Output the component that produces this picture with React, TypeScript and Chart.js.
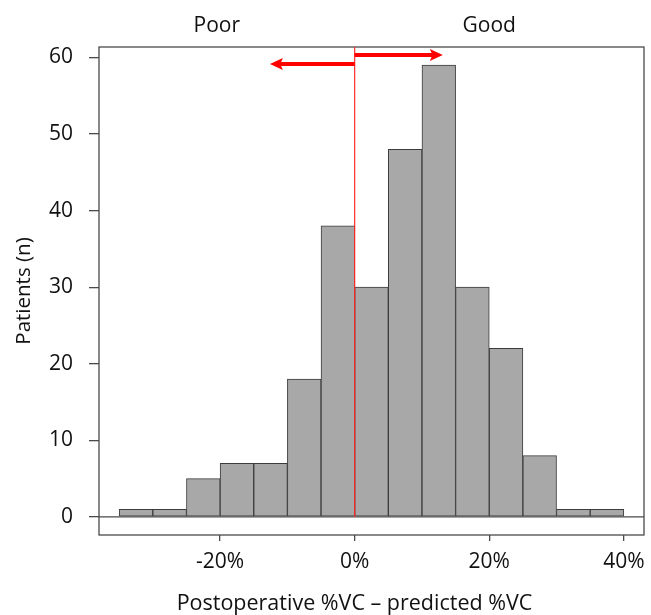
import React, { useEffect, useRef } from "react";
import { Chart, registerables } from "chart.js";

Chart.register(...registerables);

// Histogram bins (start of each 5% bin) and patient counts
const binStarts = [-35, -30, -25, -20, -15, -10, -5, 0, 5, 10, 15, 20, 25, 30, 35];
const binWidth = 5;
const counts = [1, 1, 5, 7, 7, 18, 38, 30, 48, 59, 30, 22, 8, 1, 1];

// Axis ticks
const xTicks = [-20, 0, 20, 40];
const yTicks = [0, 10, 20, 30, 40, 50, 60];

// Axis ranges
const xRange = [-38, 43];
const yRange = [-2.36, 61.36];

// Annotations
const cutoff = 0;
const arrowPoor = { from: 0, to: -12.6, y: 59.15 };
const arrowGood = { from: 0, to: 13.1, y: 60.3 };
const sideLabels = [
  { text: "Poor", x: -20.5 },
  { text: "Good", x: 20 },
];
const xTitle = "Postoperative %VC \u2013 predicted %VC";
const yTitle = "Patients (n)";

const FONT = "'Open Sans', 'Liberation Sans', sans-serif";
const TEXT = "#111111";
const LINE = "#4a4a4a";

const overlay = {
  id: "overlay",
  afterDatasetsDraw(chart: any) {
    const { ctx, chartArea: a, scales } = chart;
    const xs = scales.x;
    const ys = scales.y;
    ctx.save();
    // zero line
    const y0 = ys.getPixelForValue(0);
    ctx.strokeStyle = LINE;
    ctx.lineWidth = 1.3;
    ctx.beginPath();
    ctx.moveTo(a.left, y0);
    ctx.lineTo(a.right, y0);
    ctx.stroke();
    // box
    ctx.strokeRect(a.left, a.top, a.right - a.left, a.bottom - a.top);
    // red cutoff line
    const xc = xs.getPixelForValue(cutoff);
    ctx.strokeStyle = "#ff2a2a";
    ctx.lineWidth = 1.2;
    ctx.beginPath();
    ctx.moveTo(xc, a.top);
    ctx.lineTo(xc, y0);
    ctx.stroke();
    // arrows
    const drawArrow = (ar: any) => {
      const x1 = xs.getPixelForValue(ar.from);
      const x2 = xs.getPixelForValue(ar.to);
      const y = ys.getPixelForValue(ar.y);
      const dir = Math.sign(x2 - x1);
      const headLen = 13;
      const headHalf = 6;
      ctx.strokeStyle = "#ff0000";
      ctx.fillStyle = "#ff0000";
      ctx.lineWidth = 4;
      ctx.beginPath();
      ctx.moveTo(x1, y);
      ctx.lineTo(x2 - dir * headLen * 0.6, y);
      ctx.stroke();
      ctx.beginPath();
      ctx.moveTo(x2, y);
      ctx.lineTo(x2 - dir * headLen, y - headHalf);
      ctx.lineTo(x2 - dir * headLen * 0.8, y);
      ctx.lineTo(x2 - dir * headLen, y + headHalf);
      ctx.closePath();
      ctx.fill();
    };
    drawArrow(arrowPoor);
    drawArrow(arrowGood);
    // side labels
    ctx.fillStyle = TEXT;
    ctx.font = `21px ${FONT}`;
    ctx.textAlign = "center";
    ctx.textBaseline = "middle";
    sideLabels.forEach((l) => {
      ctx.fillText(l.text, xs.getPixelForValue(l.x), a.top - 21);
    });
    // x axis title
    ctx.font = `21.5px ${FONT}`;
    ctx.fillText(xTitle, (a.left + a.right) / 2 - 17, 604);
    ctx.restore();
  },
};

export default function App() {
  const ref = useRef<HTMLCanvasElement | null>(null);
  useEffect(() => {
    if (!ref.current) return;
    const chart = new Chart(ref.current, {
      type: "bar",
      data: {
        datasets: [
          {
            data: binStarts.map((s, i) => ({ x: s + binWidth / 2, y: counts[i] })),
            backgroundColor: "#a8a8a8",
            borderColor: "#3c3c3c",
            borderWidth: 1,
            borderSkipped: false,
            barPercentage: 1,
            categoryPercentage: 1,
          },
        ],
      },
      plugins: [overlay],
      options: {
        animation: false,
        responsive: false,
        maintainAspectRatio: false,
        layout: { padding: { top: 47, right: 7, left: 0, bottom: 0 } },
        plugins: { legend: { display: false }, tooltip: { enabled: false }, title: { display: false } },
        scales: {
          x: {
            type: "linear",
            min: xRange[0],
            max: xRange[1],
            offset: false,
            afterBuildTicks: (s: any) => {
              s.ticks = xTicks.map((v) => ({ value: v }));
            },
            afterFit: (s: any) => {
              s.height = 80;
              s.paddingLeft = 0;
              s.paddingRight = 0;
            },
            grid: { offset: false, drawOnChartArea: false, drawTicks: true, tickLength: 6, color: LINE, lineWidth: 1.3 },
            border: { display: false },
            ticks: {
              padding: 8,
              color: TEXT,
              font: { family: FONT, size: 21 },
              maxRotation: 0,
              autoSkip: false,
              callback: (v: any) => `${v}%`,
            },
            title: { display: false },
          },
          y: {
            type: "linear",
            min: yRange[0],
            max: yRange[1],
            afterBuildTicks: (s: any) => {
              s.ticks = yTicks.map((v) => ({ value: v }));
            },
            afterFit: (s: any) => {
              s.width = 99;
              s.paddingTop = 0;
              s.paddingBottom = 0;
            },
            grid: { drawOnChartArea: false, drawTicks: true, tickLength: 10, color: LINE, lineWidth: 1.3 },
            border: { display: false },
            ticks: {
              padding: 16,
              color: TEXT,
              font: { family: FONT, size: 21 },
              autoSkip: false,
            },
            title: {
              display: true,
              text: yTitle,
              color: TEXT,
              font: { family: FONT, size: 20.5, lineHeight: 1.2 },
              padding: { top: 12, bottom: 0 },
            },
          },
        },
      },
    });
    return () => chart.destroy();
  }, []);
  return (
    <div style={{ position: "absolute", left: 0, top: 0, width: 651, height: 615, background: "#fff" }}>
      <canvas ref={ref} width={651} height={615} style={{ width: 651, height: 615 }} />
    </div>
  );
}
